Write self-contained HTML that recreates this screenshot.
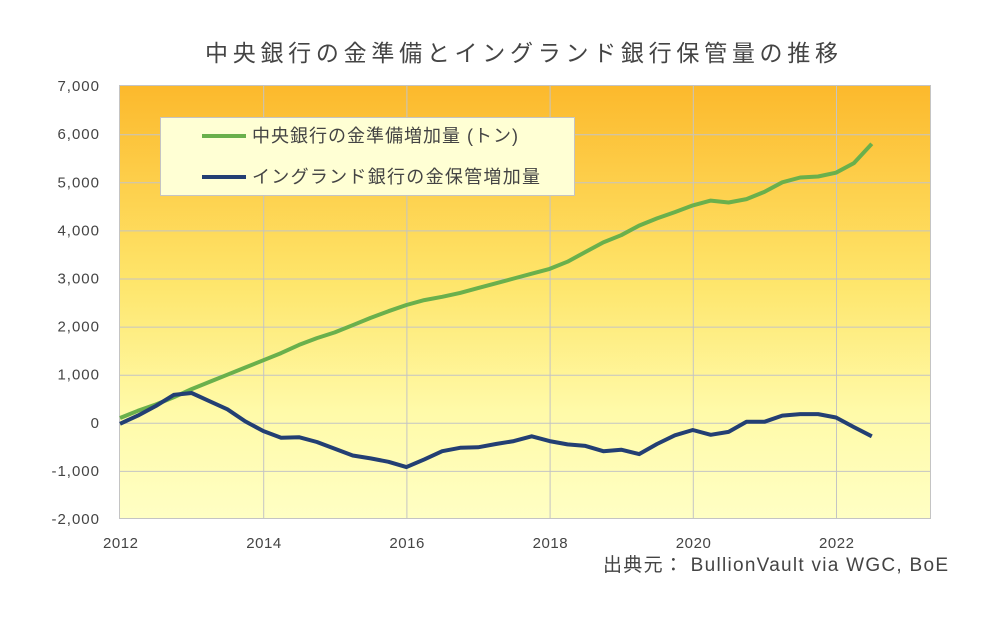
<!DOCTYPE html><html><head><meta charset="utf-8"><style>
body{margin:0;background:#fff;width:990px;height:616px;overflow:hidden}
text{font-family:"Liberation Sans","Noto Sans CJK JP",sans-serif;fill:#444}
</style></head><body>
<svg id="s" width="990" height="616" xmlns="http://www.w3.org/2000/svg">
<defs><linearGradient id="g" x1="0" y1="0" x2="0" y2="1">
<stop offset="0" stop-color="#fcb92c"/><stop offset="0.45" stop-color="#fee56a"/><stop offset="0.75" stop-color="#fffaa8"/><stop offset="1" stop-color="#ffffc4"/></linearGradient></defs>
<text x="205" y="61" font-size="23" textLength="633" lengthAdjust="spacing">中央銀行の金準備とイングランド銀行保管量の推移</text>
<rect x="119.5" y="85.5" width="811" height="433" fill="url(#g)" stroke="#c4c4c4"/>
<g id="grid" stroke="#c4c4c4" stroke-width="1"></g>
<g id="lab" font-size="15"></g>
<polyline id="gr" fill="none" stroke="#6ab04c" stroke-width="4" stroke-linejoin="round"/>
<polyline id="bl" fill="none" stroke="#233f73" stroke-width="4" stroke-linejoin="round"/>
<rect x="160.5" y="117.5" width="414" height="78" fill="#ffffd4" stroke="#c4c4c4"/>
<line x1="202" y1="136" x2="246" y2="136" stroke="#6ab04c" stroke-width="4"/>
<line x1="202" y1="177" x2="246" y2="177" stroke="#233f73" stroke-width="4"/>
<text x="252" y="142" font-size="18" textLength="266" lengthAdjust="spacing">中央銀行の金準備増加量 (トン)</text>
<text x="252" y="183" font-size="18" textLength="288" lengthAdjust="spacing">イングランド銀行の金保管増加量</text>
<text x="603" y="571" font-size="19" textLength="345" lengthAdjust="spacing">出典元： BullionVault via WGC, BoE</text>
</svg>
<script>
var X=function(t){return 120+(t-2012)*71.6},Y=function(v){return 422.8-v*0.0481};
var gr=document.getElementById('grid'),lab=document.getElementById('lab'),h='';
for(var v=-1000;v<=6000;v+=1000)h+='<line x1="120" x2="930" y1="'+(Y(v)+.5).toFixed(1)+'" y2="'+(Y(v)+.5).toFixed(1)+'"/>';
for(var t=2014;t<=2022;t+=2)h+='<line y1="86" y2="518" x1="'+(X(t)+.5).toFixed(1)+'" x2="'+(X(t)+.5).toFixed(1)+'"/>';
gr.innerHTML=h;h='';
for(var v=-2000;v<=7000;v+=1000){var s=v.toLocaleString('en-US');h+='<text x="100" y="'+(Y(v)+5)+'" text-anchor="end" letter-spacing="1">'+s+'</text>';}
for(var t=2012;t<=2022;t+=2)h+='<text x="'+(X(t)-17)+'" y="548" textLength="35" lengthAdjust="spacing">'+t+'</text>';
lab.innerHTML=h;
var G=[100,250,380,530,700,850,1000,1150,1300,1450,1620,1760,1880,2030,2180,2320,2450,2550,2620,2700,2800,2900,3000,3100,3200,3350,3550,3750,3900,4100,4250,4380,4520,4620,4580,4650,4800,5000,5100,5120,5200,5400,5800];
var B=[-20,150,350,580,620,450,280,30,-170,-310,-300,-400,-540,-680,-740,-810,-920,-760,-590,-520,-510,-440,-380,-280,-380,-450,-480,-590,-560,-650,-440,-260,-150,-250,-190,20,20,150,180,180,110,-90,-280];
function pts(a){return a.map(function(v,i){return X(2012+i/4).toFixed(1)+','+Y(v).toFixed(1)}).join(' ')}
document.getElementById('gr').setAttribute('points',pts(G));
document.getElementById('bl').setAttribute('points',pts(B));
</script>
</body></html>
